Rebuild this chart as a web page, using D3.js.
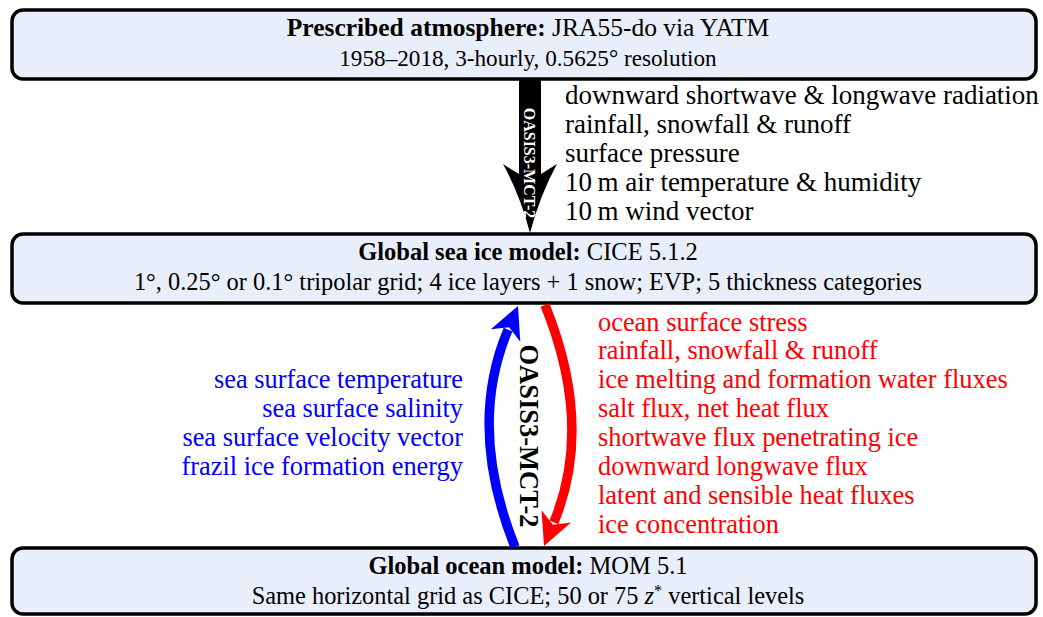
<!DOCTYPE html>
<html><head><meta charset="utf-8">
<script src="https://cdn.jsdelivr.net/npm/d3@7"></script>
<style>html,body{margin:0;padding:0;background:#fff;}svg{display:block;}</style>
</head><body>
<svg id="c" width="1043" height="617"></svg>
<script>
// ---- data ----
const boxTitles = ["Prescribed atmosphere:", "Global sea ice model:", "Global ocean model:"];
const boxNames = ["JRA55-do via YATM", "CICE 5.1.2", "MOM 5.1"];
const boxDetails = [
  "1958–2018, 3-hourly, 0.5625° resolution",
  "1°, 0.25° or 0.1° tripolar grid; 4 ice layers + 1 snow; EVP; 5 thickness categories",
  "Same horizontal grid as CICE; 50 or 75 z* vertical levels"
];
const atmosphereToIce = [
  "downward shortwave & longwave radiation",
  "rainfall, snowfall & runoff",
  "surface pressure",
  "10\u2009m air temperature & humidity",
  "10\u2009m wind vector"
];
const iceToOcean = [
  "ocean surface stress",
  "rainfall, snowfall & runoff",
  "ice melting and formation water fluxes",
  "salt flux, net heat flux",
  "shortwave flux penetrating ice",
  "downward longwave flux",
  "latent and sensible heat fluxes",
  "ice concentration"
];
const oceanToIce = [
  "sea surface temperature",
  "sea surface salinity",
  "sea surface velocity vector",
  "frazil ice formation energy"
];
const couplerName = "OASIS3-MCT-2";

// ---- layout ----
const FONT = "'Liberation Serif', 'Times New Roman', serif";
const svg = d3.select("#c");
const boxLayout = [ {y: 10, h: 69}, {y: 234, h: 69}, {y: 548, h: 66} ];
const boxX = 12, boxW = 1024, textCX = 528;

const g = svg.append("g");
boxLayout.forEach((b, i) => {
  g.append("rect").attr("x", boxX + 1.5).attr("y", b.y + 1.5).attr("width", boxW).attr("height", b.h)
    .attr("rx", 11).attr("fill", "#000").attr("opacity", 0.12);
  g.append("rect").attr("x", boxX).attr("y", b.y).attr("width", boxW).attr("height", b.h)
    .attr("rx", 11).attr("fill", "#e8eefa").attr("stroke", "#000").attr("stroke-width", 3.5);
  const t = g.append("text").attr("x", textCX).attr("y", b.y + 25.5).attr("text-anchor", "middle")
    .attr("font-family", FONT).attr("font-size", i === 0 ? 25.5 : 24.5).attr("fill", "#000");
  t.append("tspan").attr("font-weight", "bold").text(boxTitles[i]);
  t.append("tspan").text("\u00a0" + boxNames[i]);
  const s = g.append("text").attr("x", textCX).attr("y", b.y + 55.5).attr("text-anchor", "middle")
    .attr("font-family", FONT).attr("font-size", i === 0 ? 23.2 : 24.4).attr("fill", "#000");
  const parts = boxDetails[i].split(/(z\*)/);
  let raised = false;
  parts.forEach(p => {
    if (p === "z*") {
      s.append("tspan").attr("font-style", "italic").text("z");
      s.append("tspan").attr("font-size", 16).attr("dy", -8).text("*");
      raised = true;
    } else if (p) {
      const ts = s.append("tspan").text(p);
      if (raised) { ts.attr("dy", 8); raised = false; }
    }
  });
});

// ---- lists ----
const yBlack = d3.scaleLinear().domain([0, 1]).range([104, 133]);
const yRed = d3.scaleLinear().domain([0, 1]).range([330.5, 359.4]);
svg.append("g").selectAll("text").data(atmosphereToIce).join("text")
  .attr("x", 565).attr("y", (d, i) => yBlack(i)).attr("font-family", FONT)
  .attr("font-size", 27).attr("fill", "#000").text(d => d);
svg.append("g").selectAll("text").data(iceToOcean).join("text")
  .attr("x", 598).attr("y", (d, i) => yRed(i)).attr("font-family", FONT)
  .attr("font-size", 26.4).attr("fill", "#ff0000").text(d => d);
svg.append("g").selectAll("text").data(oceanToIce).join("text")
  .attr("x", 463).attr("y", (d, i) => yRed(i + 2)).attr("text-anchor", "end").attr("font-family", FONT)
  .attr("font-size", 26.4).attr("fill", "#0000ff").text(d => d);

// ---- black arrow (atmosphere -> ice) ----
const ax = 530;
const blackPath = d3.path();
blackPath.moveTo(ax - 11, 79);
blackPath.lineTo(ax + 11, 79);
blackPath.lineTo(ax + 11, 174);
blackPath.lineTo(ax + 27, 164);
blackPath.quadraticCurveTo(ax + 10, 195, ax, 233);
blackPath.quadraticCurveTo(ax - 10, 195, ax - 27, 164);
blackPath.lineTo(ax - 11, 174);
blackPath.closePath();
svg.append("path").attr("d", blackPath.toString()).attr("fill", "#000");
svg.append("text").attr("transform", `translate(${ax},163) rotate(90)`)
  .attr("text-anchor", "middle").attr("dy", "0.35em").attr("font-family", FONT)
  .attr("font-weight", "bold").attr("font-size", 16).attr("fill", "#fff").text(couplerName);

// ---- curved arrows ----
function curvedArrow(p0, c, p1, color) {
  const L = 32, W = 16, sw = 9.5;
  let dx = p1[0] - c[0], dy = p1[1] - c[1];
  const len = Math.hypot(dx, dy); dx /= len; dy /= len;
  const nx = -dy, ny = dx;
  const base = [p1[0] - L * dx, p1[1] - L * dy];
  const notch = [p1[0] - 0.72 * L * dx, p1[1] - 0.72 * L * dy];
  const lineEnd = [p1[0] - 0.8 * L * dx, p1[1] - 0.8 * L * dy];
  const cp = d3.path();
  cp.moveTo(p0[0], p0[1]);
  cp.quadraticCurveTo(c[0], c[1], lineEnd[0], lineEnd[1]);
  svg.append("path").attr("d", cp.toString()).attr("fill", "none")
    .attr("stroke", color).attr("stroke-width", sw);
  const hp = d3.path();
  hp.moveTo(p1[0], p1[1]);
  hp.lineTo(base[0] + W * nx, base[1] + W * ny);
  hp.lineTo(notch[0], notch[1]);
  hp.lineTo(base[0] - W * nx, base[1] - W * ny);
  hp.closePath();
  svg.append("path").attr("d", hp.toString()).attr("fill", color);
}
curvedArrow([515, 547], [467, 427], [518, 306], "#0000ff");
curvedArrow([545, 305], [594, 426], [544, 546], "#ff0000");

svg.append("text").attr("transform", `translate(529,436) rotate(90)`)
  .attr("text-anchor", "middle").attr("dy", "0.35em").attr("font-family", FONT)
  .attr("font-weight", "bold").attr("font-size", 26.5).attr("fill", "#000").text(couplerName);
</script>
</body></html>
